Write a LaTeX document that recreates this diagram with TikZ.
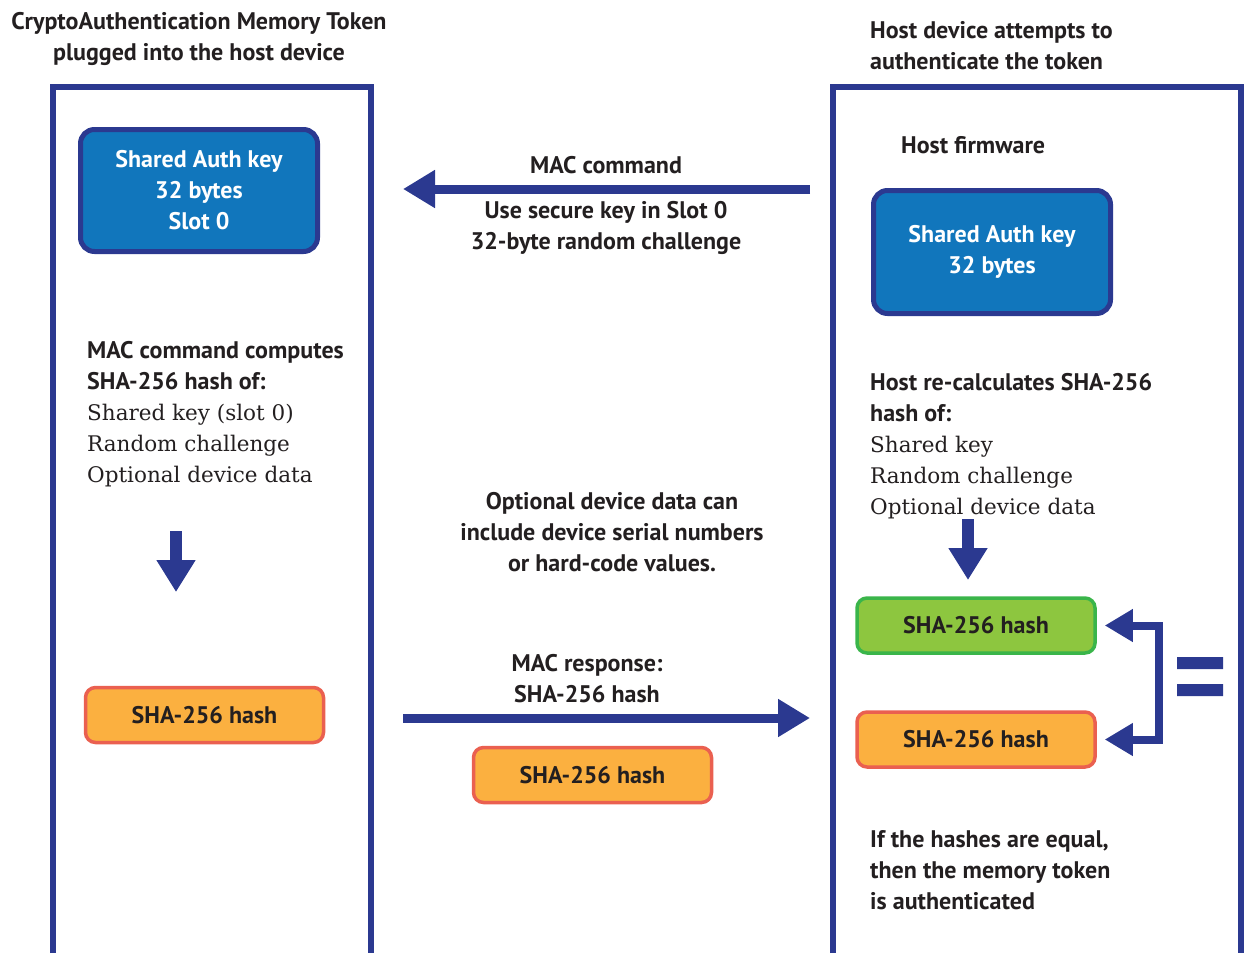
\documentclass[tikz,border=0pt]{standalone}
\usepackage{fontspec}
\setmainfont{PT Sans}
\newfontfamily\slabfont{DejaVu Serif}
\usetikzlibrary{positioning,arrows.meta}
\definecolor{ink}{HTML}{231F20}
\definecolor{mcblue}{HTML}{2B3990}
\definecolor{keyblue}{HTML}{1176BC}
\definecolor{hashorange}{HTML}{FBB040}
\definecolor{hashred}{HTML}{EA6050}
\definecolor{hashlime}{HTML}{8DC63F}
\definecolor{hashgreen}{HTML}{3AB54A}
\newcommand\plainline{\slabfont\mdseries\fontsize{21.5}{31}\selectfont}
\tikzset{
  frame/.style={draw=mcblue,line width=6pt},
  keybox/.style={draw=mcblue,fill=keyblue,line width=5pt,rounded corners=14pt,
    text=white,align=center,minimum width=237pt,minimum height=122pt},
  hashbox/.style={draw=hashred,fill=hashorange,line width=3.5pt,rounded corners=10pt,
    minimum width=238pt,minimum height=55pt},
  limebox/.style={hashbox,draw=hashgreen,fill=hashlime},
  bigarrow/.style={mcblue,line width=9pt,-{Triangle[length=32pt,width=36pt]}},
  downarrow/.style={mcblue,line width=12pt,-{Triangle[length=32pt,width=37pt]}},
  bracket/.style={mcblue,line width=8pt,{Triangle[length=28pt,width=31pt]}-{Triangle[length=28pt,width=31pt]}}
}

\begin{document}
\begin{tikzpicture}[x=1pt,y=-1pt,font=\fontsize{24}{31}\selectfont\bfseries,text=ink,inner sep=0pt]
  \useasboundingbox (0,0) rectangle (1246,953);
  % the two sides
  \draw[frame] (53,953) -- (53,87) -- (371,87) -- (371,953);
  \draw[frame] (833,953) -- (833,87) -- (1241,87) -- (1241,953);
  \node[anchor=north,align=center] (tokentitle) at (199,12) {CryptoAuthentication Memory Token\\plugged into the host device};
  \node[anchor=north west,align=left] (hosttitle) at (870,21) {Host device attempts to\\authenticate the token};

  % token side
  \node[keybox] (tokenkey) at (199,190.5) {Shared Auth key\\32 bytes\\Slot 0};
  \node[anchor=north west,align=left] (tokencalc) at (87,341) {MAC command computes\\SHA-256 hash of:\\{\plainline Shared key (slot 0)}\\{\plainline Random challenge}\\{\plainline Optional device data}};
  \coordinate (tokendown) at (176,531); \coordinate (tokenhashtop) at (176,592);
  \node[hashbox] (tokenhash) at (204.5,715) {SHA-256 hash};

  % messages
  \coordinate (cmdfrom) at (810,189); \coordinate (cmdto) at (403,189);
  \node[anchor=north] (cmdlabel) at (606,156) {MAC command};
  \node[anchor=north,align=center] (cmdargs) at (606,201) {Use secure key in Slot 0\\32-byte random challenge};
  \node[anchor=north,align=center] (datanote) at (612,492) {Optional device data can\\include device serial numbers\\or hard-code values.};
  \node[anchor=north,align=center] (resplabel) at (587,654) {MAC response:\\SHA-256 hash};
  \coordinate (respfrom) at (403,718); \coordinate (respto) at (810,718);
  \node[hashbox] (resphash) at (592.5,775) {SHA-256 hash};
  \draw[bigarrow] (cmdfrom) -- (cmdto);
  \draw[bigarrow] (respfrom) -- (respto);

  % host side
  \node[anchor=north west] (firmware) at (901,136) {Host firmware};
  \node[keybox,minimum height=123pt] (hostkey) at (992,252) {Shared Auth key\\32 bytes};
  \node[anchor=north west,align=left] (hostcalc) at (870,373) {Host re-calculates SHA-256\\hash of:\\{\plainline Shared key}\\{\plainline Random challenge}\\{\plainline Optional device data}};
  \coordinate (hostdown) at (968,519); \coordinate (hosthashtop) at (968,580);
  \node[limebox] (hosthash) at (976,625.5) {SHA-256 hash};
  \node[hashbox] (recvhash) at (976,739.5) {SHA-256 hash};
  \node[anchor=north west,align=left] (verdict) at (870,830) {If the hashes are equal,\\then the memory token\\is authenticated};
  \draw[downarrow] (tokendown) -- (tokenhashtop);
  \draw[downarrow] (hostdown) -- (hosthashtop);
  \draw[bracket] ([xshift=8pt]hosthash.east) -- ++(54,0) |- ([xshift=8pt]recvhash.east);
  \fill[mcblue] (1177,657) rectangle (1223,669) (1177,684) rectangle (1223,696);
\end{tikzpicture}
\end{document}
